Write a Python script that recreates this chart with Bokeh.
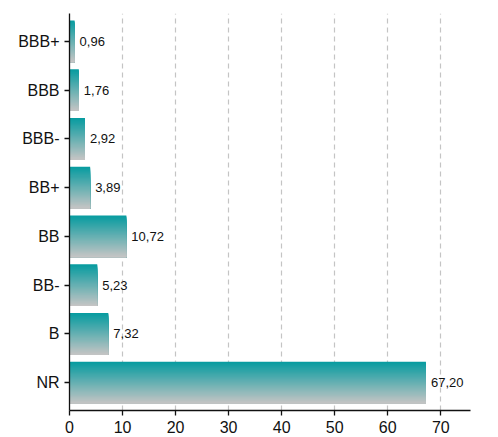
from bokeh.plotting import figure
from bokeh.models import FactorRange, Range1d, ColumnDataSource, FixedTicker
from bokeh.transform import dodge
from bokeh.embed import file_html
from bokeh.resources import INLINE
from bokeh.core.properties import value

ratings = ["NR", "B", "BB-", "BB", "BB+", "BBB-", "BBB", "BBB+"]
shares = [67.20, 7.32, 5.23, 10.72, 3.89, 2.92, 1.76, 0.96]
x_ticks = [0, 10, 20, 30, 40, 50, 60, 70]

labels = [f"{v:.2f}".replace(".", ",") for v in shares]
src = ColumnDataSource(dict(cat=ratings, val=shares, lab=labels))

p = figure(width=490, height=437, output_backend="svg", toolbar_location=None,
           y_range=FactorRange(factors=ratings, range_padding=0.07, range_padding_units="absolute"),
           x_range=Range1d(0, 75.6),
           min_border_left=69, min_border_right=20, min_border_top=13, min_border_bottom=27)

# gradient bars: nested slices from teal (top) to grey (bottom), each reaching the bar bottom
bar_h = 0.855
n = 40
top_c = (8, 156, 160)
bot_c = (196, 196, 196)
for i in range(n):
    t = i / (n - 1)
    c = tuple(int(round(top_c[k] + (bot_c[k] - top_c[k]) * t)) for k in range(3))
    h = bar_h * (n - i) / n
    off = -bar_h / 2 + h / 2
    p.hbar(y=dodge("cat", off, range=p.y_range), right="val", left=0,
           height=h, source=src,
           fill_color="#%02x%02x%02x" % c, line_color=None)

p.text(x="val", y="cat", text="lab", source=src, x_offset=5,
       text_baseline="middle", text_align="left", text_font_size="13px",
       text_font=value("Liberation Sans"), text_color="#111111")

p.outline_line_color = None
p.background_fill_color = "white"
p.ygrid.grid_line_color = None
p.xgrid.ticker = FixedTicker(ticks=x_ticks[1:])
p.xgrid.grid_line_color = "#c4c4c4"
p.xgrid.grid_line_dash = "5 4"
p.xgrid.grid_line_width = 1.2

p.xaxis.ticker = FixedTicker(ticks=x_ticks)
for ax in (p.xaxis, p.yaxis):
    ax.axis_line_color = "#111111"
    ax.axis_line_width = 1.3
    ax.major_tick_line_color = "#111111"
    ax.major_tick_line_width = 1.3
    ax.major_tick_out = 5
    ax.major_tick_in = 0
    ax.minor_tick_line_color = None
    ax.major_label_text_font = "Liberation Sans"
    ax.major_label_text_font_size = "16px"
    ax.major_label_text_color = "#111111"
p.xaxis.major_label_standoff = 5
p.yaxis.major_label_standoff = 5

open("out.html", "w").write(file_html(p, INLINE))
